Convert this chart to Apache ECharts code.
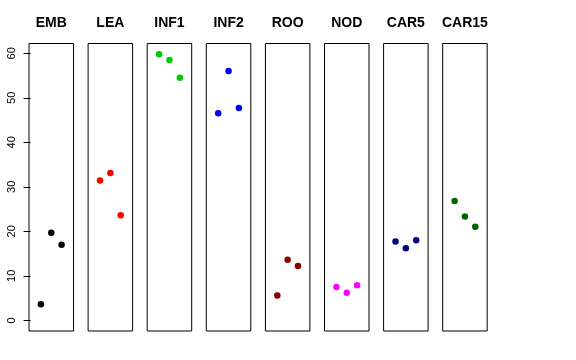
<!DOCTYPE html>
<html>
<head>
<meta charset="utf-8">
<script src="https://cdn.jsdelivr.net/npm/echarts@6/dist/echarts.min.js"></script>
<style>html,body{margin:0;padding:0;background:#fff}#c{width:576px;height:360px}</style>
</head>
<body>
<div id="c"></div>
<script>
var categories = ["EMB", "LEA", "INF1", "INF2", "ROO", "NOD", "CAR5", "CAR15"];
var colors = ["#000000", "#FF0000", "#00CD00", "#0000FF", "#8B0000", "#FF00FF", "#000080", "#006400"];
var EMB = [3.6, 19.7, 17.0];
var LEA = [31.4, 33.1, 23.6];
var INF1 = [59.8, 58.5, 54.5];
var INF2 = [46.5, 56.0, 47.7];
var ROO = [5.6, 13.6, 12.2];
var NOD = [7.5, 6.2, 7.9];
var CAR5 = [17.7, 16.2, 18.0];
var CAR15 = [26.8, 23.3, 21.0];
var values = [EMB, LEA, INF1, INF2, ROO, NOD, CAR5, CAR15];
var yTicks = [0, 10, 20, 30, 40, 50, 60];

var grids = [], xAxes = [], yAxes = [], series = [];
for (var i = 0; i < categories.length; i++) {
  grids.push({left: 29 + i * 59.1, top: 43.5, width: 44.5, height: 287.5,
    show: true, borderColor: '#000', borderWidth: 1, backgroundColor: 'transparent'});
  xAxes.push({type: 'value', gridIndex: i, min: -0.15, max: 4.15, position: 'top',
    name: categories[i], nameLocation: 'middle', nameGap: 13,
    nameTextStyle: {fontFamily: 'Liberation Sans', fontWeight: 'bold', fontSize: 14, color: '#000'},
    axisLine: {show: false}, axisTick: {show: false}, axisLabel: {show: false}, splitLine: {show: false}});
  var first = i === 0;
  yAxes.push({type: 'value', gridIndex: i, min: -2.4, max: 62.2,
    axisLine: {show: false},
    axisTick: {show: first, length: 7, lineStyle: {color: '#000'}, customValues: yTicks},
    axisLabel: {show: first, rotate: 90, margin: 12, fontFamily: 'Liberation Sans', fontSize: 11, color: '#000', customValues: yTicks},
    splitLine: {show: false}});
  series.push({type: 'scatter', xAxisIndex: i, yAxisIndex: i, symbol: 'circle', symbolSize: 6.5,
    itemStyle: {color: colors[i], opacity: 1},
    data: values[i].map(function (v, j) { return [j + 1, v]; }),
    animation: false});
}

var chart = echarts.init(document.getElementById('c'), null, {renderer: 'canvas'});
chart.setOption({animation: false, grid: grids, xAxis: xAxes, yAxis: yAxes, series: series});
</script>
</body>
</html>
